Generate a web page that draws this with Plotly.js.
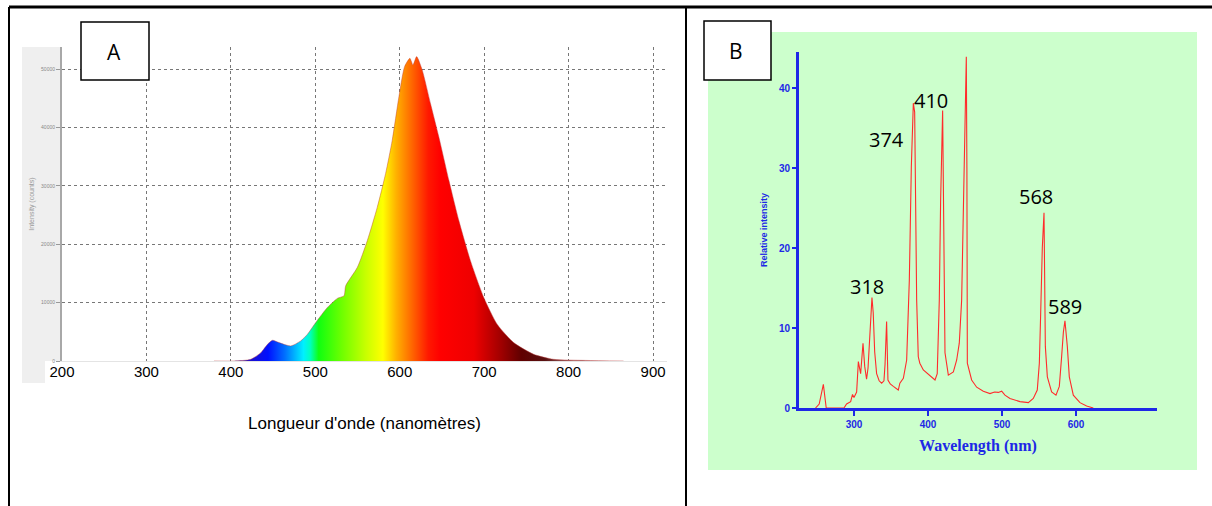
<!DOCTYPE html>
<html><head><meta charset="utf-8">
<script src="https://cdn.plot.ly/plotly-3.0.1.min.js"></script>
<style>html,body{margin:0;padding:0;background:#fff}#chart{width:1212px;height:506px}</style>
</head><body><div id="chart"></div>
<script>
// ---- Panel A : white LED spectrum (counts vs wavelength) ----
const specA_nm = [380,404,423.6,435.5,443.4,449.3,457,470.9,482.7,490.7,500.5,514.3,526.1,534,536,549.8,561.6,573.4,583.2,591.1,599,605.7,612,615.6,620,626.6,636.4,646.3,658.2,670,683.7,699.5,715.3,734.9,758.6,782.2,820,865];
const specA_counts = [0,0,290,1430,2860,3550,3150,2580,3440,4580,6590,9160,10720,11170,12890,16040,20620,26340,32070,37800,45240,50400,51830,50690,52120,49830,44100,38370,30930,24050,17180,10880,6300,3150,1150,290,100,0];
const axisA_ticks = [200,300,400,500,600,700,800,900];
const axisA_yticks = [0,10000,20000,30000,40000,50000];
const axisA_ytext = ['0','10000','20000','30000','40000','50000'];

// ---- Panel B : emission line spectrum ----
const specB_nm = [248,253,258.6,261,262.5,286.5,290,295.5,298,300,303.6,305.9,307,309,312.2,314.5,317,319,322,324.3,326,328,330.6,334,337.4,340.5,342,344.1,345.9,349,353.2,359.9,362,366.7,371.2,374.8,377.5,380.2,382,383.8,384.7,386.9,389,393.7,402.7,409.5,412.5,415.3,417.1,419.8,421.6,423,427.5,434.3,438.8,442.3,445.5,448.6,450.8,451.8,452.6,453.2,459,465.8,474.8,483.8,490,495,499.6,504,510.8,524.3,535.6,542.3,547.7,550.5,552.3,554.5,556.8,557.8,558.6,561.3,567.1,573,577.5,580.6,583,585.1,588.3,591,596.4,605.4,614.4,623.4];
const specB_int = [0,0.5,2.96,1.5,0,0,0.5,0.8,1.7,1.3,2.0,5.8,5.4,4.3,8.1,5.2,3.6,5,10,13.8,11.9,7,4.3,3.4,3.1,3.4,5.5,10.8,3.5,3.0,2.7,2.25,3.1,3.7,6.0,16,30.2,38.1,37,25,13.5,6.4,5.6,4.75,4.1,3.5,4.3,13.5,26,37.2,20,6.9,4.1,4.5,6.0,8.1,13.5,28,42,43.9,30,5.6,3.5,2.6,2.1,1.8,2.0,1.95,2.1,1.6,1.2,0.8,0.67,1.2,2.25,5.6,11.8,20,24.4,15,7.7,3.9,2.0,1.6,2.7,6.4,9.5,10.9,7.7,3.9,1.6,0.67,0.25,0];
const axisB_xticks = [300,400,500,600];
const axisB_yticks = [0,10,20,30,40];
const peakLabels = ['318','374','410','452','568','589'];
const peakLabelNm = [317.6,344.6,404,450,546,585];
const peakLabelInt = [15.25,33.5,38.4,45.4,26.4,12.75];

const W = 1212, H = 506;
const px = x => x / W, py = y => 1 - y / H;
const blue = '#1e28e6';

const traceA = {
  x: specA_nm, y: specA_counts, xaxis: 'x', yaxis: 'y', type: 'scatter', mode: 'lines',
  line: {color: 'rgba(190,60,60,0.55)', width: 0.8, shape: 'spline', smoothing: 0.6},
  fill: 'tozeroy',
  fillgradient: {type: 'horizontal', start: 400, stop: 800, colorscale: [
    [0.0, '#3010a0'], [0.06, '#1a10d0'], [0.11, '#0010ff'], [0.16, '#0070ff'], [0.215, '#00f0ff'],
    [0.235, '#00ffc0'], [0.26, '#10ff10'], [0.33, '#70ff00'], [0.40, '#c8ff00'], [0.45, '#ffff00'],
    [0.49, '#ffb000'], [0.535, '#ff6800'], [0.585, '#ff1800'], [0.62, '#ff0000'], [0.72, '#ee0000'],
    [0.8, '#a00000'], [0.86, '#600000'], [0.93, '#581010'], [1.0, '#a06060']]},
  hoverinfo: 'skip', showlegend: false
};
const traceB = {
  x: specB_nm, y: specB_int, xaxis: 'x2', yaxis: 'y2', type: 'scatter', mode: 'lines',
  line: {color: '#ff2b2b', width: 1.1}, hoverinfo: 'skip', showlegend: false, cliponaxis: false
};

const annotations = peakLabels.map((t, i) => ({
  text: t, x: peakLabelNm[i], y: peakLabelInt[i], xref: 'x2', yref: 'y2', showarrow: false,
  xanchor: 'center', yanchor: 'middle',
  font: {family: 'Open Sans', size: 20, color: '#000'}
}));
annotations.push({text: 'A', x: px(114), y: py(52), xref: 'paper', yref: 'paper', showarrow: false,
  xanchor: 'center', yanchor: 'middle', font: {family: 'Open Sans', size: 21, color: '#000'}});
annotations.push({text: 'B', x: px(736), y: py(51), xref: 'paper', yref: 'paper', showarrow: false,
  xanchor: 'center', yanchor: 'middle', font: {family: 'Open Sans', size: 21, color: '#000'}});

const shapes = [
  {type: 'rect', xref: 'paper', yref: 'paper', x0: px(708), x1: px(1197), y0: py(470), y1: py(32), fillcolor: '#ccffcc', line: {width: 0}, layer: 'below'},
  {type: 'rect', xref: 'paper', yref: 'paper', x0: px(22), x1: px(61), y0: py(361), y1: py(47), fillcolor: '#efefef', line: {width: 0}, layer: 'below'},
  {type: 'rect', xref: 'paper', yref: 'paper', x0: px(22), x1: px(45), y0: py(383), y1: py(361), fillcolor: '#efefef', line: {width: 0}, layer: 'below'},
  {type: 'line', xref: 'paper', yref: 'paper', x0: px(9), x1: 1, y0: py(7), y1: py(7), line: {color: '#000', width: 3}},
  {type: 'line', xref: 'paper', yref: 'paper', x0: px(9), x1: px(9), y0: py(7), y1: 0, line: {color: '#000', width: 2}},
  {type: 'line', xref: 'paper', yref: 'paper', x0: px(686), x1: px(686), y0: py(7), y1: 0, line: {color: '#000', width: 2}},
  {type: 'rect', xref: 'paper', yref: 'paper', x0: px(81), x1: px(149), y0: py(80), y1: py(22), fillcolor: '#fff', line: {color: '#000', width: 1.5}, layer: 'above'},
  {type: 'rect', xref: 'paper', yref: 'paper', x0: px(704), x1: px(771), y0: py(80), y1: py(21), fillcolor: '#fff', line: {color: '#000', width: 1.5}, layer: 'above'}
];

const layout = {
  width: W, height: H, autosize: false,
  margin: {l: 0, r: 0, t: 0, b: 0, pad: 0},
  paper_bgcolor: '#fff', plot_bgcolor: 'rgba(0,0,0,0)',
  showlegend: false,
  font: {family: 'Liberation Sans', color: '#000'},
  xaxis: {
    domain: [px(62), px(667)], range: [200, 916.5], anchor: 'y',
    tickvals: axisA_ticks, ticks: '', ticklen: 0, ticklabelstandoff: -3,
    showgrid: true, gridcolor: '#777', griddash: '3px,3px', gridwidth: 1,
    showline: true, linecolor: '#e4e4e4', linewidth: 1, zeroline: false,
    tickfont: {family: 'Liberation Sans', size: 15, color: '#000'},
    title: {text: "Longueur d'onde (nanomètres)", font: {family: 'Liberation Sans', size: 17, color: '#000'}, standoff: 38}
  },
  yaxis: {
    domain: [py(361), py(47)], range: [0, 53767], anchor: 'x',
    tickvals: axisA_yticks, ticktext: axisA_ytext, ticks: 'outside', ticklen: 4, tickcolor: '#999',
    showgrid: true, gridcolor: '#777', griddash: '3px,3px', gridwidth: 1,
    showline: true, linecolor: '#a8a8a8', linewidth: 2, zeroline: false,
    tickfont: {family: 'Liberation Sans', size: 5, color: '#888'},
    title: {text: 'Intensity (counts)', font: {family: 'Liberation Sans', size: 7, color: '#999'}, standoff: 6}
  },
  xaxis2: {
    domain: [px(799), px(1157)], range: [225.7, 709.5], anchor: 'y2',
    tickvals: axisB_xticks, ticks: 'outside', ticklen: 5, tickwidth: 2, tickcolor: blue,
    showgrid: false, zeroline: false, showline: true, linecolor: blue, linewidth: 3,
    tickfont: {family: 'Liberation Sans', size: 10, color: blue, weight: 'bold'},
    title: {text: '<b>Wavelength (nm)</b>', font: {family: 'Liberation Serif', size: 16, color: blue}, standoff: 11}
  },
  yaxis2: {
    domain: [py(408), py(52)], range: [0, 44.5], anchor: 'x2',
    tickvals: axisB_yticks, ticks: 'outside', ticklen: 4, tickwidth: 2, tickcolor: blue,
    showgrid: false, zeroline: false, showline: true, linecolor: blue, linewidth: 3,
    tickfont: {family: 'Liberation Sans', size: 10, color: blue, weight: 'bold'},
    title: {text: '<b>Relative intensity</b>', font: {family: 'Liberation Sans', size: 9, color: blue}, standoff: 10}
  },
  shapes: shapes, annotations: annotations
};

Plotly.newPlot('chart', [traceA, traceB], layout, {staticPlot: true, displayModeBar: false});
</script></body></html>
